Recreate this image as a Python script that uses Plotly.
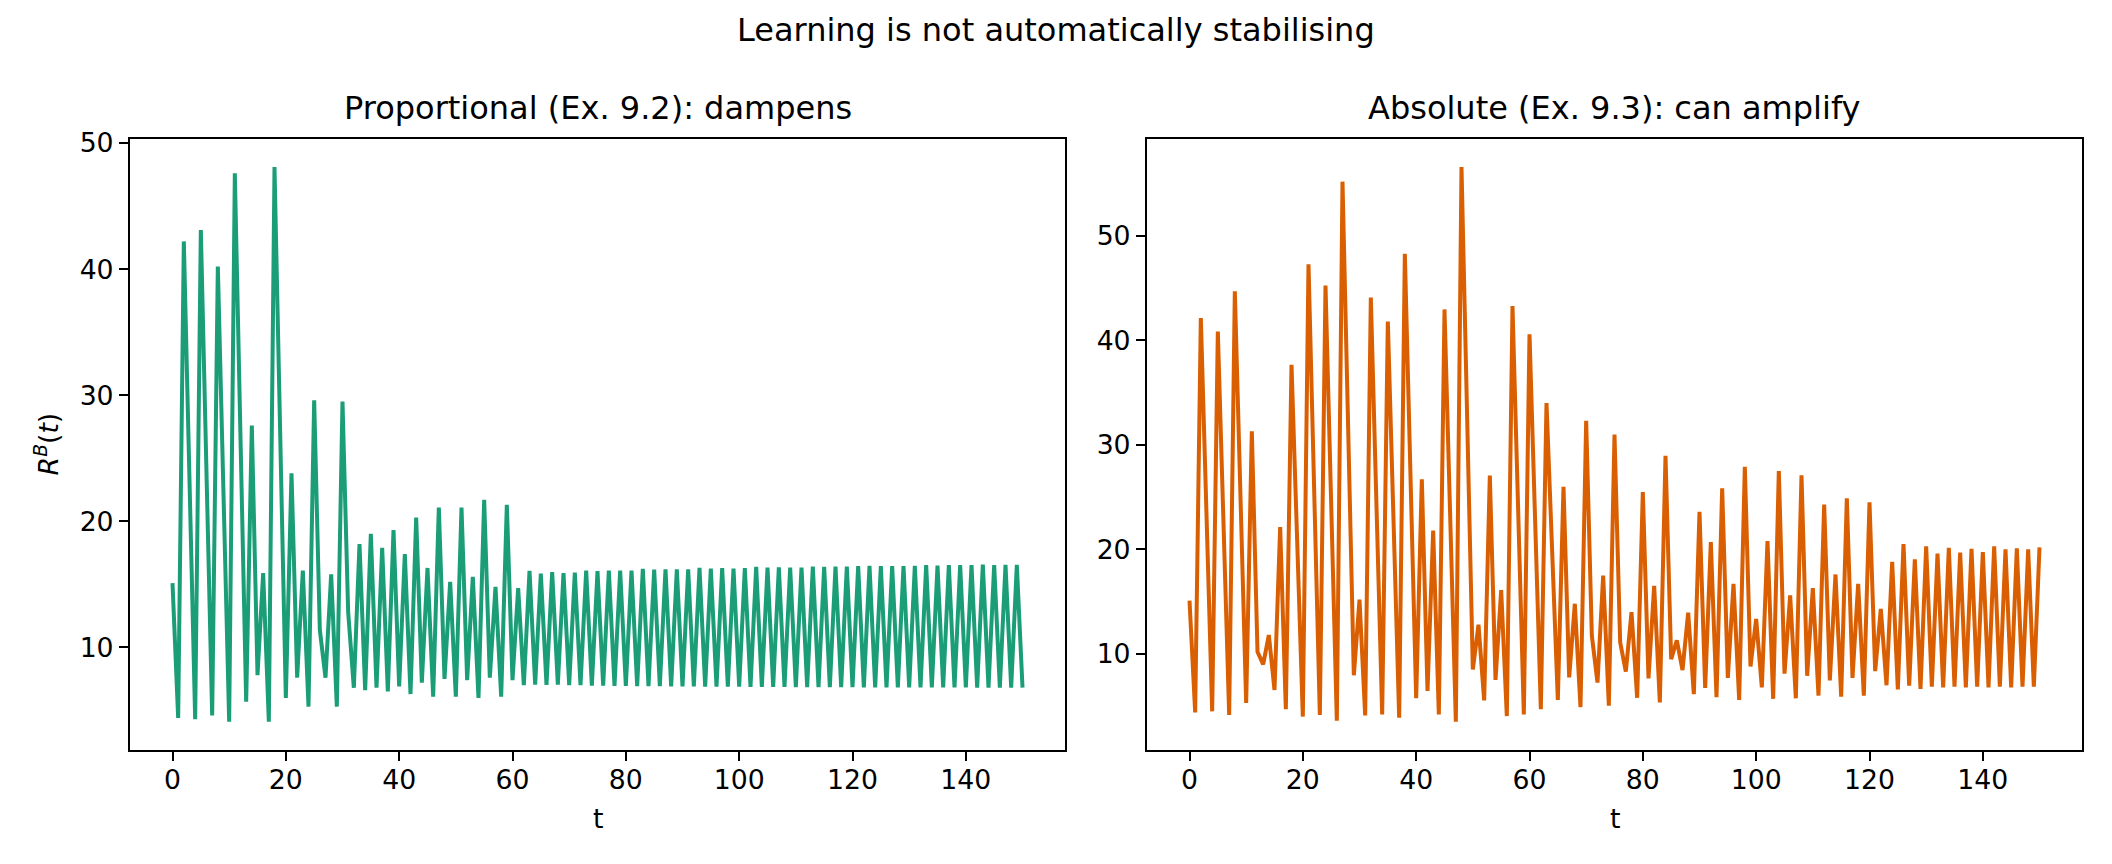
import plotly.graph_objects as go

# R^B(t) for t = 0..150
t_values = list(range(151))

proportional = [
    15.1, 4.4, 42.2, 23.3, 4.3, 43.1, 23.8, 4.6, 40.2, 22.1,
    4.1, 47.6, 26.7, 5.7, 27.6, 7.8, 15.9, 4.1, 48.1, 27.1,
    6.0, 23.8, 7.6, 16.1, 5.3, 29.6, 11.4, 7.6, 15.8, 5.3,
    29.5, 12.8, 6.8, 18.2, 6.6, 19.0, 6.8, 17.9, 6.5, 19.3,
    6.9, 17.4, 6.3, 20.3, 7.2, 16.3, 6.1, 21.1, 7.5, 15.2,
    6.1, 21.1, 7.4, 15.6, 6.0, 21.7, 7.6, 14.8, 6.1, 21.3,
    7.4, 14.7, 7.0, 16.07, 7.05, 15.86, 7.02, 15.97, 7.04, 15.9,
    7.0, 15.94, 7.0, 16.1, 6.97, 16.05, 6.97, 16.1, 6.95, 16.1,
    6.94, 16.1, 6.93, 16.23, 6.92, 16.18, 6.92, 16.2, 6.91, 16.2,
    6.9, 16.2, 6.9, 16.3, 6.89, 16.25, 6.89, 16.28, 6.88, 16.25,
    6.88, 16.28, 6.87, 16.38, 6.87, 16.33, 6.86, 16.35, 6.86, 16.33,
    6.85, 16.33, 6.85, 16.41, 6.85, 16.38, 6.84, 16.41, 6.84, 16.41,
    6.84, 16.44, 6.83, 16.46, 6.83, 16.44, 6.83, 16.44, 6.83, 16.44,
    6.82, 16.46, 6.82, 16.52, 6.82, 16.49, 6.82, 16.52, 6.82, 16.52,
    6.82, 16.52, 6.81, 16.57, 6.81, 16.52, 6.81, 16.54, 6.81, 16.54,
    6.81,
]

absolute = [
    15.1, 4.4, 42.15, 23.2, 4.5, 40.85, 22.4, 4.15, 44.7, 24.9,
    5.3, 31.3, 10.2, 9.0, 11.8, 6.55, 22.15, 4.7, 37.66, 20.8,
    4.0, 47.3, 25.6, 4.15, 45.25, 24.4, 3.6, 55.2, 31.6, 7.95,
    15.2, 4.1, 44.1, 24.2, 4.2, 41.8, 22.9, 3.9, 48.3, 27.0,
    5.75, 26.7, 6.45, 21.8, 4.2, 42.97, 23.2, 3.5, 56.6, 32.5,
    8.5, 12.8, 5.55, 27.06, 7.5, 16.1, 4.05, 43.3, 23.8, 4.2,
    40.6, 22.6, 4.7, 34.0, 19.8, 5.6, 26.0, 7.75, 14.8, 4.9,
    32.3, 11.75, 7.25, 17.5, 5.05, 31.0, 11.1, 8.3, 14.0, 5.8,
    25.5, 7.65, 16.5, 5.35, 28.96, 9.5, 11.3, 8.45, 13.95, 6.15,
    23.6, 6.75, 20.7, 5.85, 25.85, 7.7, 16.7, 5.6, 27.9, 8.8,
    13.35, 6.8, 20.8, 5.7, 27.5, 8.1, 15.6, 5.75, 27.1, 7.9,
    16.3, 6.0, 24.3, 7.45, 17.6, 5.9, 24.9, 7.7, 16.7, 6.0,
    24.5, 8.35, 14.3, 7.0, 18.8, 6.6, 20.5, 6.95, 19.05, 6.65,
    20.3, 6.85, 19.6, 6.8, 20.15, 6.85, 19.7, 6.8, 20.05, 6.85,
    19.75, 6.8, 20.3, 6.85, 20.0, 6.8, 20.1, 6.85, 20.0, 6.85,
    20.2,
]

x_ticks = [0, 20, 40, 60, 80, 100, 120, 140]
y_ticks = [10, 20, 30, 40, 50]

suptitle = "Learning is not automatically stabilising"
titles = ["Proportional (Ex. 9.2): dampens", "Absolute (Ex. 9.3): can amplify"]
colors = ["#1b9e77", "#d95f02"]

# the page body adds an 8px margin, so the figure is drawn 8px in from the corner
OFF = 8
W, H = 2112 - 2 * OFF, 864 - 2 * OFF
FONT = "DejaVu Sans"


def px(x):
    return (x - OFF) / W


def py(y):
    return 1 - (y - OFF) / H


def padded(vals):
    lo, hi = min(vals), max(vals)
    pad = 0.05 * (hi - lo)
    return [lo - pad, hi + pad]


# axes frames in screen pixels (left, right), shared top/bottom
boxes = [(130, 1065), (1147, 2082)]
top, bottom = 129, 748

fig = go.Figure()
for i, (series, color) in enumerate(zip([proportional, absolute], colors)):
    fig.add_trace(go.Scatter(
        x=t_values, y=series, mode="lines",
        line=dict(color=color, width=4),
        xaxis="x" if i == 0 else "x2",
        yaxis="y" if i == 0 else "y2",
        showlegend=False,
    ))

axis_common = dict(
    showgrid=False, zeroline=False, showline=True, mirror=True,
    linecolor="black", linewidth=2.1, ticks="outside", ticklen=9,
    tickwidth=2.1, tickcolor="black",
    tickfont=dict(family=FONT, size=26.7, color="black"),
)

layout = dict(
    width=W, height=H, margin=dict(l=0, r=0, t=0, b=0),
    paper_bgcolor="white", plot_bgcolor="white",
    font=dict(family=FONT, color="black"),
)
xr = padded(t_values)
for i, (series, (l, r)) in enumerate(zip([proportional, absolute], boxes)):
    suffix = "" if i == 0 else "2"
    layout["xaxis" + suffix] = dict(
        axis_common, domain=[px(l), px(r)], range=xr,
        tickvals=x_ticks, anchor="y" + suffix, ticklabelstandoff=-4,
    )
    layout["yaxis" + suffix] = dict(
        axis_common, domain=[py(bottom), py(top)], range=padded(series),
        tickvals=y_ticks, anchor="x" + suffix,
    )
fig.update_layout(**layout)

annotations = [dict(
    text=suptitle, x=px(1056), y=py(18), xref="paper", yref="paper",
    showarrow=False, font=dict(family=FONT, size=32, color="black"),
    xanchor="center", yanchor="middle",
)]
for (l, r), title in zip(boxes, titles):
    cx = px((l + r) / 2)
    annotations.append(dict(
        text=title, x=cx, y=py(97), xref="paper", yref="paper",
        showarrow=False, font=dict(family=FONT, size=32, color="black"),
        xanchor="center", yanchor="middle",
    ))
    annotations.append(dict(
        text="t", x=cx, y=py(818), xref="paper", yref="paper",
        showarrow=False, font=dict(family=FONT, size=26.7, color="black"),
        xanchor="center", yanchor="middle",
    ))
annotations.append(dict(
    text="<i>R</i><sup><i>B</i></sup>(<i>t</i>)", x=px(47), y=py((top + bottom) / 2),
    xref="paper", yref="paper", showarrow=False, textangle=-90,
    font=dict(family=FONT, size=26.7, color="black"),
    xanchor="center", yanchor="middle",
))
fig.update_layout(annotations=annotations)

fig.write_html("out.html")
